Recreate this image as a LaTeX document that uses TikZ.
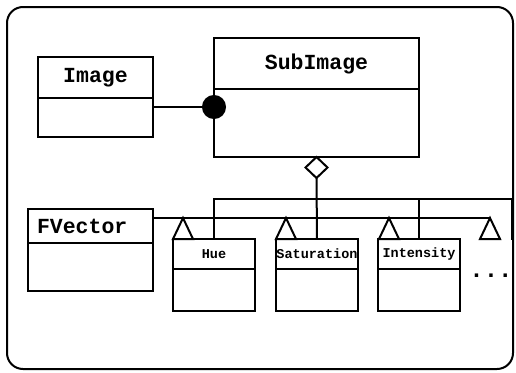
\documentclass[tikz,border=0pt]{standalone}
\usepackage{fontspec}
\newfontfamily\umlfont{Liberation Mono}
\usetikzlibrary{positioning,calc,shapes.geometric}

\begin{document}
\begin{tikzpicture}[x=1pt,y=-1pt,line width=2pt,
    every node/.style={draw,inner sep=0pt,outer sep=0pt,anchor=north west},
    bigtitle/.style={font=\umlfont\bfseries\fontsize{21.5}{24}\selectfont},
    smalltitle/.style={font=\umlfont\bfseries\fontsize{13.5}{15}\selectfont,minimum width=82pt,minimum height=30pt},
    smallbody/.style={minimum width=82pt,minimum height=42pt,anchor=north}]
  \useasboundingbox (0,0) rectangle (516,372);
  \draw[rounded corners=16pt] (7,7) rectangle (513,369);
  % classes
  \node[bigtitle,minimum width=115pt,minimum height=41pt] (image) at (38,57) {Image};
  \node[minimum width=115pt,minimum height=39pt,anchor=north,below=0pt of image] (imagebody) {};
  \node[bigtitle,minimum width=205pt,minimum height=51pt] (subimage) at (214,38) {SubImage};
  \node[minimum width=205pt,minimum height=68pt,anchor=north,below=0pt of subimage] (subimagebody) {};
  \node[bigtitle,minimum width=125pt,minimum height=34pt,text width=107pt,align=left,inner xsep=9pt] (fvector) at (28,209) {FVector};
  \node[minimum width=125pt,minimum height=48pt,anchor=north,below=0pt of fvector] (fvectorbody) {};
  \node[smalltitle] (hue) at (173,239) {Hue};
  \node[smallbody,below=0pt of hue] (huebody) {};
  \node[smalltitle] (saturation) at (276,239) {Saturation};
  \node[smallbody,below=0pt of saturation] (saturationbody) {};
  \node[smalltitle] (intensity) at (378,239) {Intensity};
  \node[smallbody,below=0pt of intensity] (intensitybody) {};
  \node[draw=none,anchor=center,font=\umlfont\bfseries\fontsize{24}{24}\selectfont] (more) at (491,276) {...};
  % composition
  \node[circle,fill,minimum size=22pt,anchor=center] (dot) at ($(subimagebody.north west)+(0,18)$) {};
  \draw (imagebody.east |- dot) -- (dot);
  % aggregation
  \node[diamond,fill=white,minimum width=22pt,minimum height=21pt,anchor=north] (agg) at (subimagebody.south) {};
  \coordinate (aggbar) at (317,199);
  \coordinate (aggfree) at (512,240);
  \draw (agg.south) -- (saturation.north);
  \draw (hue.north) |- (aggfree |- aggbar) -- (aggfree);
  \draw (intensity.north) -- (intensity.north |- aggbar);
  % generalisation
  \coordinate (genend) at (490,218);
  \draw (fvector.east |- genend) -- (genend);
  \foreach \x in {183,286,389,490}
    \draw[fill=white,line join=miter] (\x,218) -- (\x-10,239) -- (\x+10,239) -- cycle;
\end{tikzpicture}
\end{document}
